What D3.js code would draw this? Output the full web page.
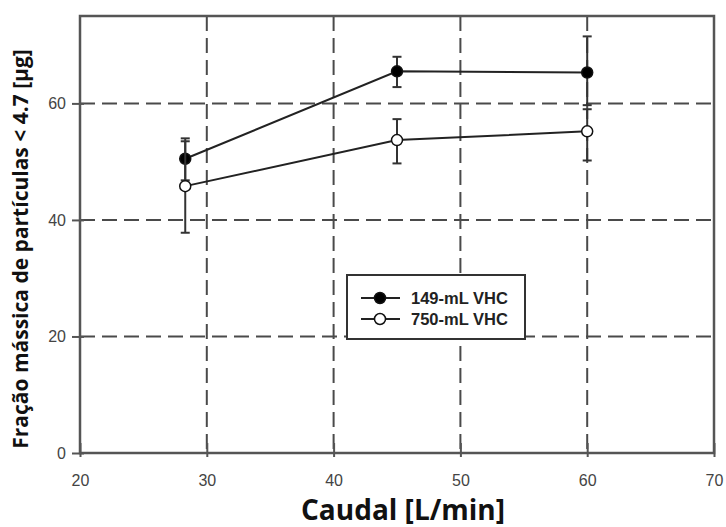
<!DOCTYPE html>
<html>
<head>
<meta charset="utf-8">
<script src="https://cdn.jsdelivr.net/npm/d3@7"></script>
<style>
  body { margin: 0; background: #fff; }
  svg { display: block; }
</style>
</head>
<body>
<div id="chart"></div>
<script>
// data
const flowRates = [28.3, 45, 60];
const vhc149 = [50.5, 65.5, 65.3];
const vhc149Low = [46.8, 62.8, 59.7];
const vhc149High = [54.0, 68.0, 71.5];
const vhc750 = [45.8, 53.7, 55.2];
const vhc750Low = [37.8, 49.7, 50.2];
const vhc750High = [53.5, 57.3, 59.0];
const xTicks = [20, 30, 40, 50, 60, 70];
const yTicks = [0, 20, 40, 60];
const legendLabels = ["149-mL VHC", "750-mL VHC"];

const width = 726;
const height = 527;
const plotLeft = 80, plotRight = 714, plotTop = 16, plotBottom = 453;

const svg = d3.select("#chart")
  .append("svg")
  .attr("width", width)
  .attr("height", height);

const x = d3.scaleLinear().domain([20, 70]).range([plotLeft, plotRight]);
const y = d3.scaleLinear().domain([0, 75]).range([plotBottom, plotTop]);

const gridColor = "#4a4a4a";
const frameColor = "#555";

// dashed grid
svg.append("g")
  .selectAll("line")
  .data(xTicks.filter(d => d > 20 && d < 70))
  .enter().append("line")
  .attr("x1", d => x(d)).attr("x2", d => x(d))
  .attr("y1", plotTop).attr("y2", plotBottom)
  .attr("stroke", gridColor)
  .attr("stroke-width", 2)
  .attr("stroke-dasharray", "15,7");

svg.append("g")
  .selectAll("line")
  .data(yTicks.filter(d => d > 0))
  .enter().append("line")
  .attr("x1", plotLeft).attr("x2", plotRight)
  .attr("y1", d => y(d)).attr("y2", d => y(d))
  .attr("stroke", gridColor)
  .attr("stroke-width", 2)
  .attr("stroke-dasharray", "15,7");

// axes
const xAxis = svg.append("g")
  .attr("transform", `translate(0,${plotBottom})`)
  .call(d3.axisBottom(x).tickValues(xTicks).tickSizeInner(-10).tickSizeOuter(0).tickPadding(22));
xAxis.selectAll(".tick line").clone().attr("y2", 4);

const yAxis = svg.append("g")
  .attr("transform", `translate(${plotLeft},0)`)
  .call(d3.axisLeft(y).tickValues(yTicks).tickSizeInner(8).tickSizeOuter(0).tickPadding(6));
yAxis.selectAll(".tick line").clone().attr("x2", 4);

[xAxis, yAxis].forEach(g => {
  g.select(".domain").remove();
  g.selectAll(".tick line").attr("stroke", frameColor).attr("stroke-width", 2);
  g.selectAll(".tick text")
    .attr("font-family", "Liberation Sans, Arial, sans-serif")
    .attr("font-size", 16)
    .attr("fill", "#444");
});

// frame
svg.append("rect")
  .attr("x", plotLeft).attr("y", plotTop)
  .attr("width", plotRight - plotLeft).attr("height", plotBottom - plotTop)
  .attr("fill", "none")
  .attr("stroke", frameColor)
  .attr("stroke-width", 2.5);

// series
const series = [
  { vals: vhc149, lo: vhc149Low, hi: vhc149High, fill: "#000" },
  { vals: vhc750, lo: vhc750Low, hi: vhc750High, fill: "#fff" }
];

const line = d3.line().x(d => x(d[0])).y(d => y(d[1]));

series.forEach(s => {
  const pts = flowRates.map((f, i) => [f, s.vals[i], s.lo[i], s.hi[i]]);
  const g = svg.append("g");

  // error bars
  g.selectAll(".err")
    .data(pts).enter().append("line")
    .attr("x1", d => x(d[0])).attr("x2", d => x(d[0]))
    .attr("y1", d => y(d[2])).attr("y2", d => y(d[3]))
    .attr("stroke", "#333").attr("stroke-width", 2);
  [2, 3].forEach(k => {
    g.selectAll(".cap" + k)
      .data(pts).enter().append("line")
      .attr("x1", d => x(d[0]) - 4.5).attr("x2", d => x(d[0]) + 4.5)
      .attr("y1", d => y(d[k])).attr("y2", d => y(d[k]))
      .attr("stroke", "#333").attr("stroke-width", 2);
  });

  g.append("path")
    .datum(pts)
    .attr("d", line)
    .attr("fill", "none")
    .attr("stroke", "#222")
    .attr("stroke-width", 2);

  g.selectAll("circle")
    .data(pts).enter().append("circle")
    .attr("cx", d => x(d[0])).attr("cy", d => y(d[1]))
    .attr("r", 5.5)
    .attr("fill", s.fill)
    .attr("stroke", "#111")
    .attr("stroke-width", 1.5);
});

// legend
const legend = svg.append("g");
legend.append("rect")
  .attr("x", 347).attr("y", 275)
  .attr("width", 178).attr("height", 64)
  .attr("fill", "#fff")
  .attr("stroke", "#333")
  .attr("stroke-width", 2);

legendLabels.forEach((lab, i) => {
  const ly = 298 + i * 21;
  legend.append("line")
    .attr("x1", 361).attr("x2", 400)
    .attr("y1", ly).attr("y2", ly)
    .attr("stroke", "#222").attr("stroke-width", 2);
  legend.append("circle")
    .attr("cx", 380).attr("cy", ly).attr("r", 5.5)
    .attr("fill", series[i].fill)
    .attr("stroke", "#111").attr("stroke-width", 1.5);
  legend.append("text")
    .attr("x", 411).attr("y", ly + 6)
    .attr("font-family", "Liberation Sans, Arial, sans-serif")
    .attr("font-weight", "bold")
    .attr("font-size", 16.5)
    .attr("fill", "#222")
    .text(lab);
});

// axis titles
svg.append("text")
  .attr("x", 403).attr("y", 520)
  .attr("text-anchor", "middle")
  .attr("font-family", "Open Sans, sans-serif")
  .attr("font-weight", "bold")
  .attr("font-size", 28)
  .attr("fill", "#111")
  .text("Caudal [L/min]");

svg.append("text")
  .attr("transform", "translate(28,249) rotate(-90)")
  .attr("text-anchor", "middle")
  .attr("font-family", "Open Sans, sans-serif")
  .attr("font-weight", "bold")
  .attr("font-size", 21)
  .attr("fill", "#111")
  .text("Fração mássica de partículas < 4.7 [µg]");
</script>
</body>
</html>
